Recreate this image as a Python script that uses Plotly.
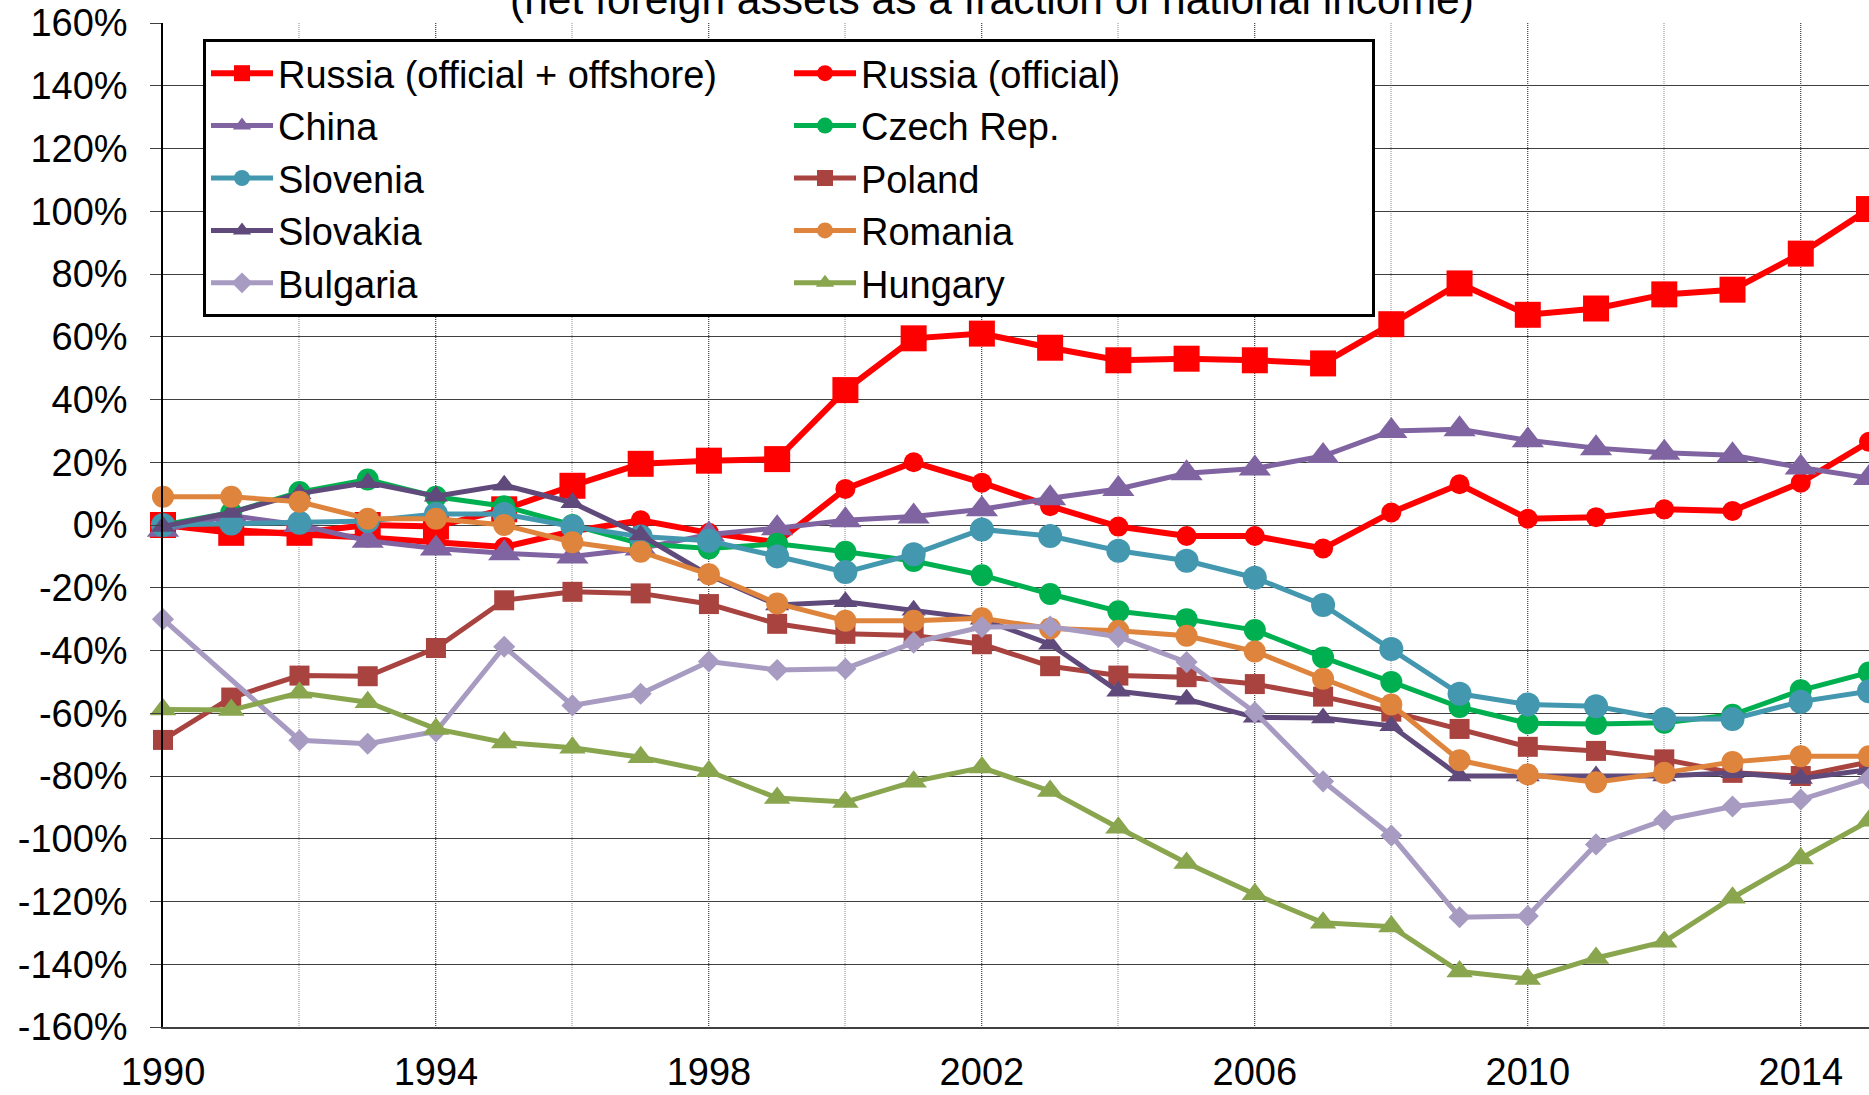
import plotly.graph_objects as go

# ---------------- data (percent of national income) ----------------
years = list(range(1990, 2016))

russia_total = [0, -2.5, -2.5, 0, -0.5, 5, 12.5, 19.5, 20.5, 21, 43, 59.5, 61, 56.5, 52.5, 53,
                52.5, 51.5, 64, 77, 67, 69, 73.5, 75, 86.5, 100.7]
russia_official = [0, -1.5, -3, -4, -5.5, -7, -2, 1.5, -2.5, -5.5, 11.5, 20, 13.5, 6, -0.5, -3.5,
                   -3.5, -7.5, 4, 13, 2, 2.5, 5, 4.5, 13.5, 26.5]
china = [-1.5, 3, 0, -5, -7.5, -9, -10, -7.5, -3, -1, 1.5, 2.7, 5, 8.5, 11.5, 16.5,
         18, 22, 30, 30.5, 27, 24.5, 23, 22.2, 18.3, 15]
czech = [0, 4, 10.5, 14.5, 9, 6, 0, -6, -7.5, -6, -8.5, -11.5, -16, -22, -27.5, -30,
         -33.5, -42.2, -50, -58, -63.2, -63.4, -63, -60.5, -52.7, -47]
slovenia = [0, 0.5, 0.7, 1.3, 3.5, 3.5, -0.5, -3.7, -5, -10, -15, -9.3, -1.4, -3.5, -8.2, -11.4,
            -16.8, -25.5, -39.5, -53.8, -57.2, -57.8, -61.8, -61.8, -56.3, -53]
poland = [-68.5, -55, -48, -48.2, -39.2, -24, -21.3, -21.8, -25.2, -31.5, -34.7, -35.2, -38, -45,
          -48, -48.5, -50.7, -54.7, -59.5, -65, -70.7, -72, -74.7, -79, -80, -75.5]
slovakia = [-0.5, 4, 10, 13.5, 9.2, 12.7, 7.1, -3.2, -16, -25.5, -24.5, -27.2, -30, -38, -53,
            -55.5, -61.3, -61.5, -64, -80, -80, -80, -80, -79, -80.8, -78]
romania = [9, 9, 7.4, 2, 2, 0, -5.5, -8.5, -15.7, -25, -30.5, -30.5, -29.7, -33, -33.7, -35.3,
           -40.3, -49, -57.2, -75, -79.5, -82, -79, -75.5, -73.7, -73.7]
bulgaria = [-30, None, -68.6, -69.7, -65.8, -38.8, -57.5, -53.8, -43.5, -46.2, -45.8, -37.5, -32.5,
            -32.4, -35.6, -43.7, -59.7, -81.7, -99, -125, -124.6, -101.8, -94, -89.7, -87.5, -80.8]
hungary = [-58.8, -59, -53.5, -56.5, -65, -69.3, -71, -74, -78.5, -87, -88.3, -81.8, -77.3, -84.8,
           -96.5, -107.7, -117.7, -126.8, -128, -142.3, -144.7, -138, -132.8, -118.8, -106.3, -94.3]

series_names = ["Russia (official + offshore)", "Russia (official)", "China", "Czech Rep.",
                "Slovenia", "Poland", "Slovakia", "Romania", "Bulgaria", "Hungary"]
series_values = [russia_total, russia_official, china, czech, slovenia, poland,
                 slovakia, romania, bulgaria, hungary]

y_tick_vals = list(range(-160, 161, 20))
y_tick_text = [f"{v}%" for v in y_tick_vals]
x_tick_vals = [1990, 1994, 1998, 2002, 2006, 2010, 2014]
x_tick_text = [str(v) for v in x_tick_vals]

title_text = "(net foreign assets as a fraction of national income)"

# ---------------- styles ----------------
styles = [
    dict(color="#FF0000", symbol="square", size=26, width=6),
    dict(color="#FF0000", symbol="circle", size=20, width=6),
    dict(color="#8064A2", symbol="triangle-up", size=28, width=5),
    dict(color="#00B050", symbol="circle", size=22, width=5),
    dict(color="#4398B0", symbol="circle", size=24, width=5),
    dict(color="#A8433F", symbol="square", size=20, width=5),
    dict(color="#604A7B", symbol="triangle-up", size=21, width=5),
    dict(color="#DE843C", symbol="circle", size=22, width=5),
    dict(color="#A89BC2", symbol="diamond", size=17, width=5),
    dict(color="#89A54E", symbol="triangle-up", size=23, width=5),
]

FONT = "Liberation Sans, Arial, sans-serif"

W, H = 1869, 1095
ML, MR, MT, MB = 163, 0, 23, 68
PW = W - ML - MR
PH = H - MT - MB

fig = go.Figure()
for name, vals, st in zip(series_names, series_values, styles):
    fig.add_trace(go.Scatter(
        x=years, y=vals, name=name, mode="lines+markers",
        connectgaps=True, cliponaxis=False,
        line=dict(color=st["color"], width=st["width"]),
        marker=dict(color=st["color"], symbol=st["symbol"], size=st["size"],
                    line=dict(width=0)),
    ))

fig.update_layout(
    width=W, height=H,
    margin=dict(l=ML, r=MR, t=MT, b=MB, pad=0, autoexpand=False),
    paper_bgcolor="white", plot_bgcolor="white",
    font=dict(family=FONT, color="black"),
    showlegend=True,
    title=dict(text=title_text, font=dict(size=42.5, family=FONT, color="black"),
               xref="container", yref="container",
               x=992 / W, xanchor="center", y=1 - 13.5 / H, yanchor="bottom"),
    legend=dict(
        orientation="h", traceorder="normal",
        x=(203 - ML) / PW, xanchor="left",
        y=1 - (39 - MT) / PH, yanchor="top",
        bgcolor="white", bordercolor="black", borderwidth=3,
        font=dict(size=38, family=FONT, color="black"),
        entrywidth=506, entrywidthmode="pixels", itemwidth=62,
    ),
    xaxis=dict(
        range=[1990, 2015], tickmode="array", tickvals=x_tick_vals, ticktext=x_tick_text,
        showgrid=True, gridcolor="#505050", gridwidth=1, griddash="1px,1px",
        minor=dict(tickmode="linear", tick0=1990, dtick=2, showgrid=True,
                   gridcolor="#C4C4C4", gridwidth=1.5, ticks=""),
        showline=True, linecolor="#404040", linewidth=2,
        ticks="", tickfont=dict(size=38, family=FONT, color="black"),
        ticklabelstandoff=10, zeroline=False,
    ),
    yaxis=dict(
        range=[-160, 160], tickmode="array", tickvals=y_tick_vals, ticktext=y_tick_text,
        showgrid=True, gridcolor="#404040", gridwidth=1.2,
        showline=True, linecolor="black", linewidth=1.5,
        ticks="outside", ticklen=11, tickcolor="#404040", tickwidth=1.2,
        tickfont=dict(size=38, family=FONT, color="black"),
        ticklabelstandoff=15, zeroline=False,
    ),
)

fig.write_html("out.html", config={"displayModeBar": False},
               post_script="document.body.style.margin='0';")
